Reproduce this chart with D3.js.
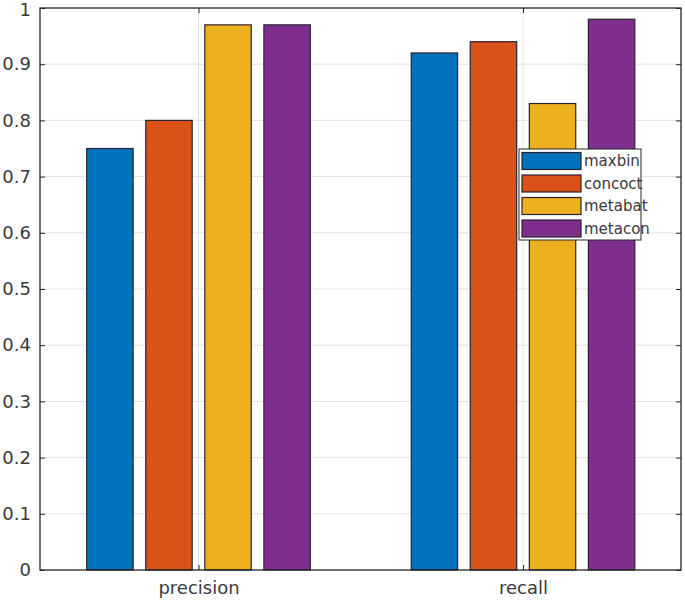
<!DOCTYPE html>
<html><head><meta charset="utf-8">
<script src="https://cdn.jsdelivr.net/npm/d3@7"></script>
<style>body{margin:0;background:#fff}svg{display:block}text{font-family:"DejaVu Sans",sans-serif}</style>
</head><body><svg id="c" width="685" height="602"></svg>
<script>
const categories = ["precision", "recall"];
const seriesNames = ["maxbin", "concoct", "metabat", "metacon"];
const maxbin = [0.75, 0.92];
const concoct = [0.80, 0.94];
const metabat = [0.97, 0.83];
const metacon = [0.97, 0.98];
const yTicks = [0, 0.1, 0.2, 0.3, 0.4, 0.5, 0.6, 0.7, 0.8, 0.9, 1];
const colors = ["#0072BD", "#D95319", "#EDB120", "#7E2F8E"];
const series = [maxbin, concoct, metabat, metacon];

const svg = d3.select("#c");
const L = 40, R = 681, T = 8, B = 570;
const x = d3.scaleLinear().domain([1, 2]).range([198.5, 523]);
const y = d3.scaleLinear().domain([0, 1]).range([B, T]);
const step = 0.182, bw = 0.143;

// grid
const g = svg.append("g");
g.selectAll("line.h").data(yTicks.slice(1, -1)).enter().append("line")
  .attr("x1", L).attr("x2", R).attr("y1", d => y(d)).attr("y2", d => y(d))
  .attr("stroke", "#e3e3e3").attr("stroke-width", 1);
g.selectAll("line.v").data(categories).enter().append("line")
  .attr("x1", (d, i) => x(i + 1)).attr("x2", (d, i) => x(i + 1))
  .attr("y1", T).attr("y2", B).attr("stroke", "#e3e3e3").attr("stroke-width", 1);

// bars
series.forEach((vals, s) => {
  svg.append("g").selectAll("rect").data(vals).enter().append("rect")
    .attr("x", (d, i) => x(i + 1 + (s - 1.5) * step - bw / 2))
    .attr("width", x(1 + bw) - x(1))
    .attr("y", d => y(d))
    .attr("height", d => y(0) - y(d))
    .attr("fill", colors[s]).attr("stroke", "#2a2030").attr("stroke-width", 1.2);
});

// axes box
svg.append("rect").attr("x", L).attr("y", T).attr("width", R - L).attr("height", B - T)
  .attr("fill", "none").attr("stroke", "#262626").attr("stroke-width", 1.3);

const yAxis = d3.axisLeft(y).tickValues(yTicks).tickSizeInner(-5).tickSizeOuter(0)
  .tickPadding(9).tickFormat(d => d3.format("~g")(d));
const ya = svg.append("g").attr("transform", `translate(${L},0)`).call(yAxis);
ya.select(".domain").remove();
ya.selectAll("line").attr("stroke", "#262626");
ya.selectAll("text").attr("font-size", 18).attr("fill", "#3a3a3a");
ya.selectAll("text").filter(d => d === 1).attr("dy", "0.4em");

const yAxisR = d3.axisRight(y).tickValues(yTicks).tickSizeInner(-5).tickSizeOuter(0).tickFormat("");
const yr = svg.append("g").attr("transform", `translate(${R},0)`).call(yAxisR);
yr.select(".domain").remove();
yr.selectAll("line").attr("stroke", "#262626");

const xAxis = d3.axisBottom(x).tickValues([1, 2]).tickSizeInner(-5).tickSizeOuter(0)
  .tickPadding(11).tickFormat(d => categories[d - 1]);
const xa = svg.append("g").attr("transform", `translate(0,${B})`).call(xAxis);
xa.select(".domain").remove();
xa.selectAll("line").attr("stroke", "#262626");
xa.selectAll("text").attr("font-size", 18).attr("fill", "#3a3a3a");

const xAxisT = d3.axisTop(x).tickValues([1, 2]).tickSizeInner(-5).tickSizeOuter(0).tickFormat("");
const xt = svg.append("g").attr("transform", `translate(0,${T})`).call(xAxisT);
xt.select(".domain").remove();
xt.selectAll("line").attr("stroke", "#262626");

// legend
const lw = 122, lh = 91;
const lg = svg.append("g").attr("transform", "translate(519,149)");
lg.append("rect").attr("width", lw).attr("height", lh).attr("fill", "#fff");
seriesNames.forEach((n, i) => {
  lg.append("rect").attr("x", 3).attr("y", 3.5 + i * 22.5).attr("width", 59).attr("height", 17)
    .attr("fill", colors[i]).attr("stroke", "#2a2030").attr("stroke-width", 1.2);
  lg.append("text").attr("x", 65).attr("y", 12 + i * 22.5).attr("dy", "0.35em")
    .attr("font-family", "'Liberation Sans', sans-serif")
    .attr("font-size", 15).attr("fill", "#3a3a3a").text(n);
});
lg.append("rect").attr("width", lw).attr("height", lh).attr("fill", "none")
  .attr("stroke", "#262626").attr("stroke-width", 1);
</script></body></html>
